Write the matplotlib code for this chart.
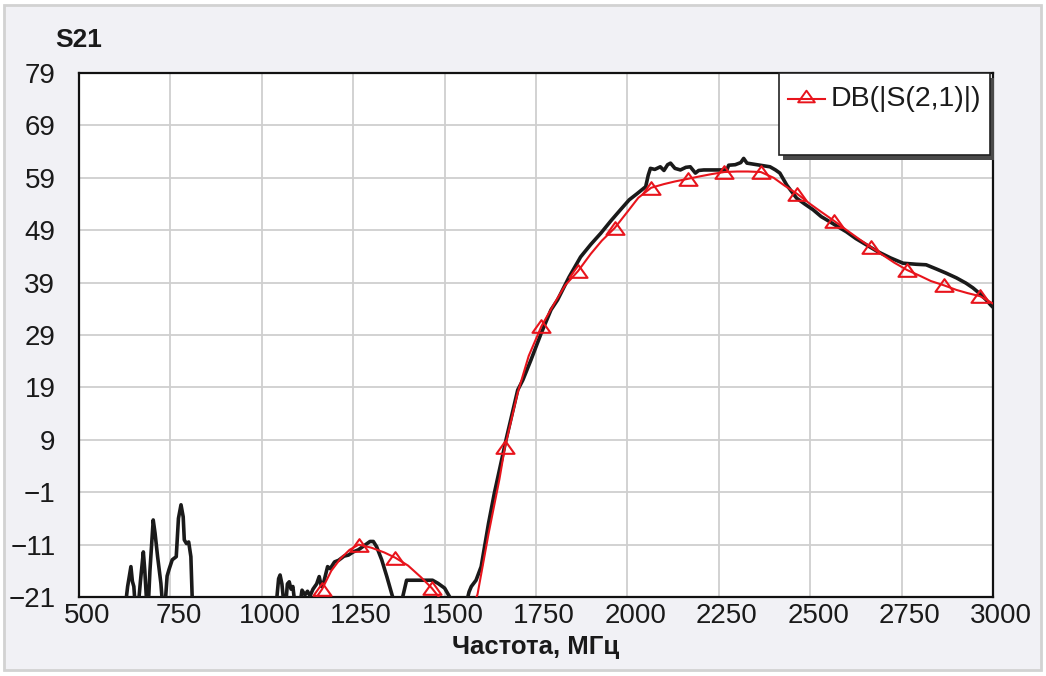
import matplotlib
matplotlib.use("Agg")
import matplotlib.pyplot as plt
import matplotlib.transforms as mtransforms
from matplotlib.patches import Rectangle
from matplotlib.path import Path
from matplotlib import font_manager

# measured trace (black), MHz / dB ; values below -21 sit under the bottom spine
meas_freq = [500, 628, 633, 642, 646, 650, 653, 663, 668, 676, 680, 685, 690, 694, 703, 708,
             715, 724, 728, 736, 741, 746, 755, 766, 772, 779, 785, 788, 794, 800, 806, 810,
             1040, 1046, 1050, 1055, 1060, 1066, 1070, 1075, 1080, 1085, 1090, 1105, 1110, 1118,
             1125, 1132, 1140, 1150, 1157, 1163, 1170, 1180, 1187, 1199, 1210, 1225, 1237, 1250,
             1264, 1282, 1296, 1305, 1314, 1328, 1342, 1355, 1362, 1382, 1392, 1396, 1437, 1467,
             1482, 1500, 1514, 1520, 1560, 1567, 1573, 1586, 1600, 1620, 1636, 1668, 1700, 1714,
             1736, 1764, 1791, 1809, 1840, 1872, 1900, 1927, 1955, 1981, 2005, 2027, 2050, 2057,
             2063, 2075, 2090, 2100, 2110, 2118, 2130, 2145, 2160, 2172, 2186, 2195, 2209, 2240,
             2272, 2277, 2295, 2310, 2318, 2327, 2345, 2363, 2390, 2405, 2417, 2436, 2463, 2485,
             2508, 2530, 2554, 2575, 2599, 2625, 2654, 2685, 2720, 2754, 2790, 2817, 2845, 2872,
             2900, 2926, 2945, 2962, 2980, 2994, 3000]
meas_db = [-22, -22, -19, -15.2, -18, -19, -22, -22, -18, -12.4, -16, -22, -22, -16, -6.3, -8.8,
           -13.3, -18.4, -22, -22, -17, -15.8, -13.9, -13.3, -6.0, -3.4, -5.7, -10.1, -10.8, -10.5,
           -13.3, -22,
           -22, -17.5, -16.8, -18.5, -22, -22, -18.5, -18.1, -19.5, -19, -22, -22, -19.7, -20.6,
           -19.9, -20.8, -19.5, -18.5, -17.1, -19, -18, -15.2, -15.6, -14.3, -14.0, -13.2, -13.0,
           -12.4,
           -12.0, -11.1, -10.4, -10.4, -11.4, -13.9, -17.1, -20.3, -22, -22, -19, -17.8, -17.8, -17.8,
           -18.4, -19.3, -21, -22, -22, -20, -19.0, -17.8, -15.2, -7, -1.2, 9.0, 18.5, 20.4,
           24.2, 29.3, 33.8, 35.7, 40, 43.9, 46.3, 48.4, 50.8, 52.9, 54.8, 56.0, 57.3, 59.5,
           60.8, 60.6, 61.1, 60.4, 61.5, 61.8, 60.8, 60.5, 61.0, 61.1, 59.9, 60.4, 60.5, 60.5,
           60.5, 61.4, 61.5, 61.9, 62.7, 61.8, 61.6, 61.4, 61.1, 60.5, 59.9, 57.6, 55.1, 54.0,
           52.9, 51.6, 50.6, 49.7, 48.7, 47.4, 46.2, 44.9, 43.7, 42.7, 42.5, 42.4, 41.6, 40.8,
           39.9, 38.9, 38.0, 37.0, 35.8, 34.7, 34.3]

# simulated DB(|S(2,1)|) (red)
sim_freq = [1140, 1165, 1190, 1215, 1240, 1265, 1300, 1335, 1365, 1400, 1435, 1465, 1490, 1520,
            1565, 1590, 1620, 1650, 1665, 1700, 1730, 1765, 1800, 1830, 1865, 1900, 1930, 1965,
            2000, 2030, 2065, 2100, 2130, 2165, 2200, 2230, 2265, 2300, 2330, 2365, 2400, 2430,
            2465, 2500, 2530, 2565, 2600, 2630, 2665, 2700, 2730, 2765, 2800, 2830, 2865, 2900,
            2930, 2965, 3000]
sim_db = [-22, -19.5, -16, -13.7, -12, -11.0, -11.6, -12.5, -13.5, -15, -17.2, -19.3, -21.5, -24,
          -25, -20.5, -9, 1.5, 7.6, 18, 25, 30.7, 35, 38.5, 41.2, 44.5, 47, 49.4,
          52.5, 55.2, 57.1, 57.8, 58.3, 58.8, 59.3, 59.7, 60.1, 60.2, 60.2, 60.1, 59.0, 57.5,
          55.9, 54, 52.5, 50.8, 49, 47.5, 45.8, 44.2, 42.8, 41.4, 40.3, 39.3, 38.5, 37.6,
          37, 36.4, 35.0]
marker_freq = [1165 + 100 * k for k in range(19)]
marker_idx = [sim_freq.index(f) for f in marker_freq]

x_ticks = [500, 750, 1000, 1250, 1500, 1750, 2000, 2250, 2500, 2750, 3000]
y_ticks = [-21, -11, -1, 9, 19, 29, 39, 49, 59, 69, 79]

names = {f.name for f in font_manager.fontManager.ttflist}
base_font = "Liberation Sans" if "Liberation Sans" in names else "DejaVu Sans"
narrow_font = "Liberation Sans Narrow" if "Liberation Sans Narrow" in names else base_font
plt.rcParams["font.family"] = [base_font, "DejaVu Sans"]

RED = "#e8141c"
# flat open triangle like the AWR marker
tri = Path([(-1, -0.7), (1, -0.7), (0, 0.7), (-1, -0.7)],
           [Path.MOVETO, Path.LINETO, Path.LINETO, Path.CLOSEPOLY])

W, H = 1046, 676
fig = plt.figure(figsize=(W / 100, H / 100), dpi=100, facecolor="white")
# light grey panel with thin border
fig.patches.append(Rectangle((4 / W, 1 - 670 / H), 1037 / W, 665 / H, transform=fig.transFigure,
                             facecolor="#f1f1f5", edgecolor="#d2d2d2", linewidth=2, zorder=-10))

L, R, T, B = 79, 993, 73, 597
ax = fig.add_axes([L / W, 1 - B / H, (R - L) / W, (B - T) / H])
ax.set_facecolor("white")

ax.plot(meas_freq, meas_db, color="#1a1a1a", linewidth=2.6, zorder=3, solid_joinstyle="round")
ax.plot(sim_freq, sim_db, color=RED, linewidth=1.5, zorder=4,
        marker=tri, markevery=marker_idx, markersize=13, markerfacecolor="none",
        markeredgecolor=RED, markeredgewidth=1.5)

ax.set_xlim(500, 3000)
ax.set_ylim(-21, 79)
ax.set_xticks(x_ticks)
ax.set_yticks(y_ticks)
ax.grid(True, color="#cfcfcf", linewidth=1.3)
ax.set_axisbelow(True)
ax.tick_params(length=0, labelsize=20, colors="#1a1a1a")
ax.tick_params(axis="y", pad=17)
ax.tick_params(axis="x", pad=4)
for lab in ax.get_xticklabels():
    lab.set_transform(lab.get_transform() + mtransforms.ScaledTranslation(0.08, 0, fig.dpi_scale_trans))
for s in ax.spines.values():
    s.set_linewidth(1.6)
    s.set_color("#111111")

# legend box with drop shadow
def px_x(x):
    return (x - L) / (R - L)

def px_y(y):
    return (B - y) / (B - T)

bx0, bx1, by0, by1 = px_x(779), px_x(990), px_y(155), px_y(73)
ax.add_patch(Rectangle((bx0 + 4 / (R - L), by0 - 5 / (B - T)), bx1 - bx0, by1 - by0,
                       transform=ax.transAxes, facecolor="#4a4a4a", edgecolor="none",
                       clip_on=False, zorder=8))
ax.add_patch(Rectangle((bx0, by0), bx1 - bx0, by1 - by0, transform=ax.transAxes,
                       facecolor="white", edgecolor="#222222", linewidth=1.2,
                       clip_on=False, zorder=9))
ax.plot([px_x(788), px_x(825)], [px_y(99), px_y(99)], transform=ax.transAxes,
        color=RED, linewidth=1.5, clip_on=False, zorder=10)
ax.plot([px_x(806)], [px_y(96)], transform=ax.transAxes, marker=tri, markersize=12,
        markerfacecolor="none", markeredgecolor=RED, markeredgewidth=1.4,
        clip_on=False, zorder=10)
ax.text(px_x(831), px_y(99), "DB(|S(2,1)|)", transform=ax.transAxes, fontsize=20.5,
        color="#1a1a1a", va="center", ha="left", zorder=11)

fig.text(79 / W, 1 - 40 / H, "S21", fontsize=19, fontweight="bold", family=[narrow_font, "DejaVu Sans"],
         ha="center", va="center", color="#1a1a1a")
fig.text(536 / W, 1 - 647 / H, "Частота, МГц", fontsize=18.5, fontweight="bold",
         family=[narrow_font, "DejaVu Sans"], ha="center", va="center", color="#1a1a1a")

fig.savefig("out.png", dpi=100, facecolor=fig.get_facecolor())
